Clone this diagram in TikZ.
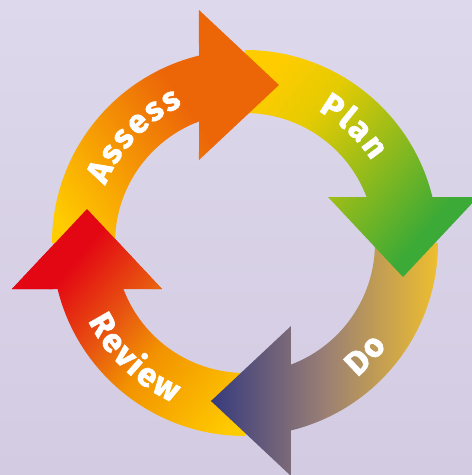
\documentclass[tikz,border=0pt]{standalone}
\usepackage{fontspec}
\setmainfont{Fira Sans}
\newfontfamily\ringfont[BoldFeatures={FakeBold=2}]{Fira Sans}
\newcommand{\ringsize}{\ringfont\bfseries\fontsize{33}{33}\selectfont}
\usetikzlibrary{decorations.text}

\definecolor{bgtop}{HTML}{DDD8EB}
\definecolor{bgbot}{HTML}{D3CBE2}
\definecolor{sun}{HTML}{FFCC00}
\definecolor{tangerine}{HTML}{EC6608}
\definecolor{straw}{HTML}{E5CB02}
\definecolor{leaf}{HTML}{3CAA36}
\definecolor{navy}{HTML}{363A7E}
\definecolor{mauve}{HTML}{9A7F74}
\definecolor{ochre}{HTML}{F3C22B}
\definecolor{amber}{HTML}{F29100}
\definecolor{flame}{HTML}{E85B10}
\definecolor{scarlet}{HTML}{E30613}

% linear colour strip between two positions along the (rotated) x axis
\newcommand{\band}[4]{\shade[left color=#1, right color=#3] (#2,-420) rectangle (#4,420);}
% solid colour strip
\newcommand{\solidstrip}[3]{\fill[#1] (#2,-420) rectangle (#3,420);}

% gradients of the four arrows
\newcommand{\paintassess}{%
  \begin{scope}[transform canvas={rotate=35}]
    \solidstrip{sun}{-420}{-139}
    \solidstrip{tangerine}{29}{420}
    \band{sun}{-140}{tangerine}{30}
  \end{scope}}
\newcommand{\paintplan}{%
  \begin{scope}[transform canvas={rotate=-40}]
    \solidstrip{sun}{-420}{-89}
    \solidstrip{leaf}{129}{420}
    \band{sun}{-90}{straw}{-30}
    \band{straw}{-30.5}{leaf}{130}
  \end{scope}}
\newcommand{\paintdo}{%
  \begin{scope}
    \solidstrip{navy}{-420}{-33}
    \solidstrip{ochre}{199}{420}
    \band{navy}{-34}{mauve}{80}
    \band{mauve}{79.5}{ochre}{200}
  \end{scope}}
\newcommand{\paintreview}{%
  \begin{scope}[transform canvas={rotate=140}]
    \solidstrip{sun}{-420}{-109}
    \solidstrip{scarlet}{119}{420}
    \band{sun}{-110}{amber}{0}
    \band{amber}{-0.5}{flame}{45}
    \band{flame}{44.5}{scarlet}{120}
  \end{scope}}

% white lettering along the ring, slightly tracked
\tikzset{
  word/.style={decorate, decoration={text effects along path, text={#1},
    text align=center,
    text effects/.cd, text along path,
    characters={text=white, font=\ringsize},
    character widths={font=\ringsize, inner xsep=1.2pt}}}
}

\begin{document}
\begin{tikzpicture}[x=1pt, y=1pt]
  % background
  \shade[use as bounding box, top color=bgtop, bottom color=bgbot]
    (-245,-232) rectangle (227,243);

  % arrow outlines: annulus sector (r = 130..193) plus triangular head
  \path[save path=\assessP]
    (180:193) arc[start angle=180, end angle=103.79, radius=193]
    -- (-46,233) -- (34,158) -- (-46,83)
    -- (110.72:130) arc[start angle=110.72, end angle=180, radius=130] -- cycle;
  \path[save path=\planP]
    (90:193) arc[start angle=90, end angle=13.79, radius=193]
    -- (233,46) -- (158,-34) -- (83,46)
    -- (20.72:130) arc[start angle=20.72, end angle=90, radius=130] -- cycle;
  \path[save path=\doP]
    (0:193) arc[start angle=0, end angle=-76.21, radius=193]
    -- (46,-233) -- (-34,-158) -- (46,-83)
    -- (-69.28:130) arc[start angle=-69.28, end angle=0, radius=130] -- cycle;
  \path[save path=\reviewP]
    (-90:193) arc[start angle=-90, end angle=-166.21, radius=193]
    -- (-233,-46) -- (-158,34) -- (-83,-46)
    -- (-159.28:130) arc[start angle=-159.28, end angle=-90, radius=130] -- cycle;

  % each head lies over the body of the following arrow
  \begin{scope} \clip[use path=\reviewP]; \paintreview \end{scope}
  \begin{scope} \clip[use path=\doP]; \paintdo \end{scope}
  \begin{scope} \clip[use path=\planP]; \paintplan \end{scope}
  \begin{scope} \clip[use path=\assessP]; \paintassess \end{scope}
  \begin{scope}
    \clip (-233,-46) -- (-158,34) -- (-83,-46) -- cycle;
    \paintreview
  \end{scope}

  % labels along the ring
  \path[word=Assess] (180:151) arc[start angle=180, end angle=92, radius=151];
  \path[word=Plan] (91:151) arc[start angle=91, end angle=3, radius=151];
  \path[word=Do] (-87:175) arc[start angle=-87, end angle=1, radius=175];
  \path[word=Review] (182:175) arc[start angle=182, end angle=270, radius=175];
\end{tikzpicture}
\end{document}
